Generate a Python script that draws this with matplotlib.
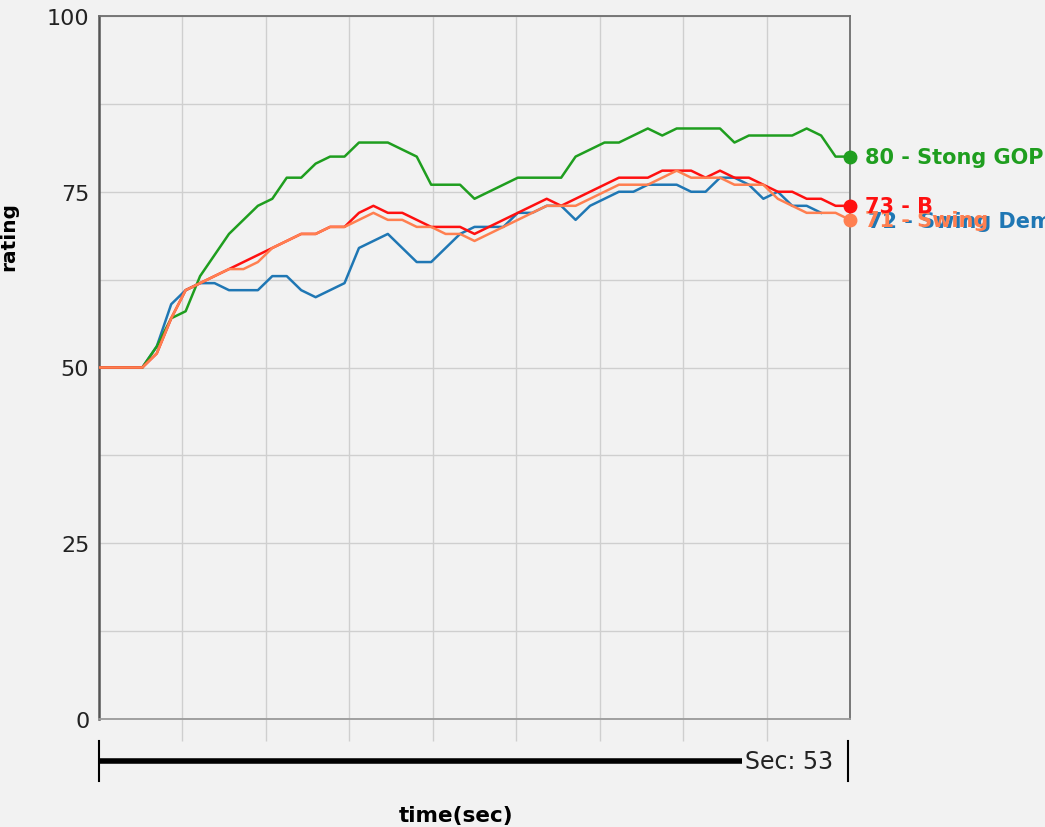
import numpy as np
import matplotlib
matplotlib.use("Agg")
from matplotlib import pyplot as plt
from matplotlib import transforms

# ratings, one value per second
green_vals = [50, 50, 50, 50, 53, 57, 58, 63, 66, 69, 71, 73, 74, 77, 77, 79, 80, 80,
              82, 82, 82, 81, 80, 76, 76, 76, 74, 75, 76, 77, 77, 77, 77, 80, 81, 82,
              82, 83, 84, 83, 84, 84, 84, 84, 82, 83, 83, 83, 83, 84, 83, 80, 80]
red_vals = [50, 50, 50, 50, 52, 57, 61, 62, 63, 64, 65, 66, 67, 68, 69, 69, 70, 70,
            72, 73, 72, 72, 71, 70, 70, 70, 69, 70, 71, 72, 73, 74, 73, 74, 75, 76,
            77, 77, 77, 78, 78, 78, 77, 78, 77, 77, 76, 75, 75, 74, 74, 73, 73]
orange_vals = [50, 50, 50, 50, 52, 57, 61, 62, 63, 64, 64, 65, 67, 68, 69, 69, 70, 70,
               71, 72, 71, 71, 70, 70, 69, 69, 68, 69, 70, 71, 72, 73, 73, 73, 74, 75,
               76, 76, 76, 77, 78, 77, 77, 77, 76, 76, 76, 74, 73, 72, 72, 72, 71]
blue_vals = [50, 50, 50, 50, 53, 59, 61, 62, 62, 61, 61, 61, 63, 63, 61, 60, 61, 62,
             67, 68, 69, 67, 65, 65, 67, 69, 70, 70, 70, 72, 72, 73, 73, 71, 73, 74,
             75, 75, 76, 76, 76, 75, 75, 77, 77, 76, 74, 75, 73, 73, 72]

green_label = '80 - Stong GOP'
red_label = '73 - B'
orange_label = '71 - Swing'
blue_label = '72 - Swing Dem'
seconds = 53
y_ticks = [0, 25, 50, 75, 100]

BG = '#f2f2f2'
GREEN = '#1f9e1f'
RED = '#ff1010'
ORANGE = '#ff7f50'
BLUE = '#1f77b4'

fig = plt.figure(figsize=(10.45, 8.28), dpi=100, facecolor=BG)
ax = fig.add_axes([99/1045, 108/828, 751/1045, 703/828])
ax.set_facecolor(BG)

n = len(green_vals)
t = np.arange(n)
tb = np.arange(len(blue_vals))

ax.plot(tb, blue_vals, color=BLUE, lw=1.8, zorder=3)
ax.plot(t, green_vals, color=GREEN, lw=1.8, zorder=3)
ax.plot(t, red_vals, color=RED, lw=1.8, zorder=3)
ax.plot(t, orange_vals, color=ORANGE, lw=1.8, zorder=3)

# end markers + labels
for vals, col in [(green_vals, GREEN), (red_vals, RED), (orange_vals, ORANGE)]:
    ax.plot(t[-1], vals[-1], 'o', color=col, ms=9, clip_on=False, zorder=5)

lab = dict(textcoords='offset points', va='center', ha='left', fontsize=15,
           fontweight='bold', annotation_clip=False)
ax.annotate(green_label, (t[-1], green_vals[-1]), xytext=(11, 0), color=GREEN, **lab)
ax.annotate(blue_label, (t[-1], orange_vals[-1] - 0.2), xytext=(13, 0), color=BLUE, **lab)
ax.annotate(orange_label, (t[-1], orange_vals[-1]), xytext=(11, 0), color=ORANGE, **lab)
ax.annotate(red_label, (t[-1], red_vals[-1]), xytext=(11, 0), color=RED, **lab)

ax.set_xlim(0, n - 1)
ax.set_ylim(0, 100)

# grid
ax.set_yticks(y_ticks)
ax.set_yticks(np.arange(0, 101, 12.5), minor=True)
ax.set_xticks(np.arange(1, 9) * (n - 1) / 9)
ax.set_xticklabels([])
ax.grid(True, which='both', axis='y', color='#cfcfcf', lw=1)
ax.grid(True, which='major', axis='x', color='#cfcfcf', lw=1)
ax.tick_params(axis='y', which='both', length=0, pad=7, labelsize=16, labelcolor='#222222')
ax.tick_params(axis='x', length=16, color='#cfcfcf', width=1, direction='out')

for s in ax.spines.values():
    s.set_color('#6e6e6e')
    s.set_linewidth(1.3)
ax.spines['bottom'].set_color('#9a9a9a')
ax.spines['left'].set_color('#555555')
ax.spines['left'].set_linewidth(1.8)

# time slider under the plot
trans = transforms.blended_transform_factory(ax.transData, ax.transAxes)
slider_pos = 44.5
ax.plot([0, slider_pos], [-0.0597, -0.0597], color='black', lw=4, transform=trans,
        clip_on=False, solid_capstyle='butt')
ax.plot([0, 0], [-0.031, -0.088], color='black', lw=1.5, transform=trans, clip_on=False)
ax.plot([51.85, 51.85], [-0.031, -0.088], color='black', lw=1.5, transform=trans, clip_on=False)
ax.text(slider_pos + 0.25, -0.0597, f'Sec: {seconds}', transform=trans, ha='left', va='center',
        fontsize=17, color='#222222')

ax.set_ylabel('rating', fontsize=14.5, fontweight='bold')
ax.yaxis.set_label_coords(-0.108, 0.688)
ax.set_xlabel('time(sec)', fontsize=15.5, fontweight='bold')
ax.xaxis.set_label_coords(0.475, -0.137)
ax.xaxis.label.set_va('center')

plt.savefig('out.png', dpi=100, facecolor=BG)
